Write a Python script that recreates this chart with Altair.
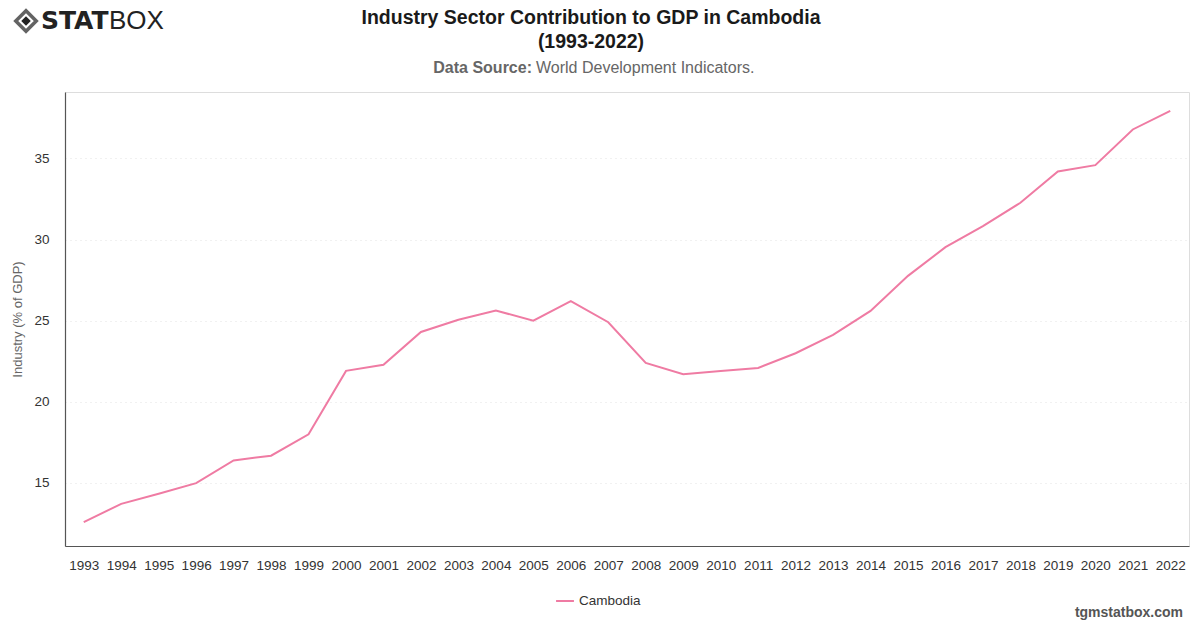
import altair as alt
import pandas as pd

years = list(range(1993, 2023))
values = [12.57, 13.70, 14.32, 14.98, 16.38, 16.67, 17.99, 21.90, 22.28, 24.30,
          25.05, 25.62, 25.00, 26.20, 24.90, 22.39, 21.69, 21.90, 22.08, 22.99,
          24.12, 25.60, 27.76, 29.53, 30.83, 32.27, 34.20, 34.59, 36.79, 37.93]
country = "Cambodia"
y_ticks = [15, 20, 25, 30, 35]

title_lines = ["Industry Sector Contribution to GDP in Cambodia", "(1993-2022)"]
source_bold = "Data Source:"
source_text = "World Development Indicators."
footer = "tgmstatbox.com"

FONT = "Liberation Sans"
W, H = 1124, 454
PL, PT = 65, 92

df = pd.DataFrame({"year": [str(y) for y in years], "value": values, "country": country})

line = alt.Chart(df).mark_line(strokeWidth=2).encode(
    x=alt.X("year:O", title=None,
            scale=alt.Scale(type="point", padding=0.5),
            axis=alt.Axis(labelAngle=0, ticks=False, domainColor="#555", domainWidth=1.2,
                          labelFont=FONT, labelFontSize=13.5, labelColor="#333",
                          labelPadding=12, grid=False)),
    y=alt.Y("value:Q", title="Industry (% of GDP)",
            scale=alt.Scale(domain=[11.1, 39.1], nice=False, zero=False),
            axis=alt.Axis(values=y_ticks, ticks=False, domainColor="#555", domainWidth=1.2,
                          labelFont=FONT, labelFontSize=13.5, labelColor="#333",
                          labelPadding=16, titleFont=FONT, titleFontSize=13,
                          titleFontWeight="normal", titleColor="#666", titlePadding=9,
                          grid=True, gridColor="#e2e2e2", gridDash=[1, 4], gridWidth=1)),
    color=alt.Color("country:N", title=None,
                    scale=alt.Scale(range=["#EF7BA3"]),
                    legend=alt.Legend(orient="none", legendX=490, legendY=499,
                                      symbolType="stroke", symbolStrokeWidth=2,
                                      symbolSize=320, labelFont=FONT, labelFontSize=13.5,
                                      labelColor="#333")),
)

def txt(text, x, y, size, weight="normal", color="#222", align="center", font=FONT):
    return alt.Chart(pd.DataFrame({"t": [text]})).mark_text(
        align=align, baseline="middle", fontSize=size, fontWeight=weight,
        color=color, font=font).encode(text="t:N", x=alt.value(x), y=alt.value(y))

cx = 591 - PL
t1 = txt(title_lines[0], cx, 18 - PT, 19.5, "bold", "#1a1a1a")
t2 = txt(title_lines[1], cx, 42 - PT, 19.5, "bold", "#1a1a1a")
s1 = txt(source_bold, 532 - PL, 68 - PT, 16, "bold", "#666", "right")
s2 = txt(source_text, 536 - PL, 68 - PT, 16, "normal", "#666", "left")
foot = txt(footer, 1183 - PL, 613 - PT, 14, "bold", "#555", "right")

logo1 = txt("STAT", 41 - PL, 21 - PT, 25, 900, "#222", "left", "DejaVu Sans")
logo2 = txt("BOX", 109 - PL, 21 - PT, 26, "normal", "#222", "left", "Liberation Sans")
icon_outer = alt.Chart(pd.DataFrame({"a": [1]})).mark_point(
    shape="diamond", size=420, filled=False, stroke="#222", strokeWidth=3.5).encode(
    x=alt.value(26 - PL), y=alt.value(21 - PT))
icon_inner = alt.Chart(pd.DataFrame({"a": [1]})).mark_point(
    shape="diamond", size=90, filled=True, color="#222", opacity=1).encode(
    x=alt.value(26 - PL), y=alt.value(21 - PT))

chart = alt.layer(line, t1, t2, s1, s2, foot, logo1, logo2, icon_outer, icon_inner).properties(
    width=W, height=H,
    padding={"left": PL, "top": PT, "right": 1200 - PL - W, "bottom": 628 - PT - H},
    autosize=alt.AutoSizeParams(type="none"),
).configure_view(stroke=None).configure(background="white")

chart.save("out.html", embed_options={"renderer": "svg", "actions": False})
